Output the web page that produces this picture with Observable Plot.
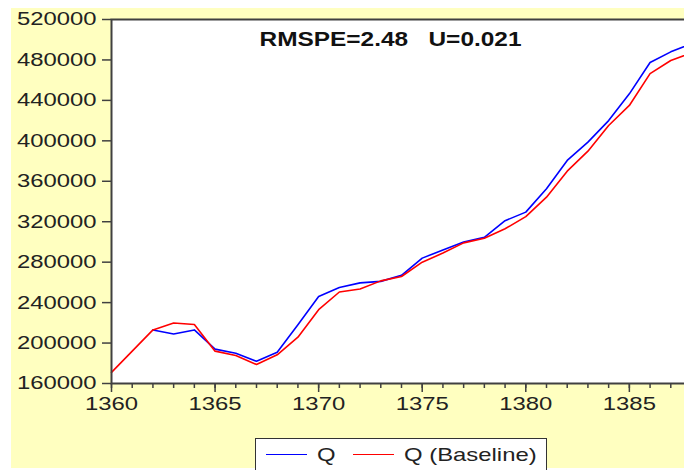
<!DOCTYPE html>
<html>
<head>
<meta charset="utf-8">
<script src="https://cdn.jsdelivr.net/npm/d3@7"></script>
<script src="https://cdn.jsdelivr.net/npm/@observablehq/plot@0.6"></script>
<style>
  html, body { margin: 0; padding: 0; background: #ffffff; overflow: hidden; }
  #wrap { position: relative; width: 684px; height: 470px; overflow: hidden; background: #ffffff; }
  #chart { position: absolute; left: 11px; top: 8px; width: 700px; height: 460px; }
  #chart svg { background: #ffffc0; display: block; max-width: none !important; width: 700px; height: 460px; }
  #legend { position: absolute; left: 255px; top: 438px; width: 292px; height: 44px;
            border: 1px solid #333; background: #ffffff; box-sizing: border-box; }
  .sw { position: absolute; height: 0; border-top: 1.6px solid; }
  .lt { position: absolute; font-family: "Liberation Sans", Arial, sans-serif; font-size: 18.5px;
        line-height: 1; color: #222; white-space: pre; transform: scaleX(1.29); transform-origin: left center; }
</style>
</head>
<body>
<div id="wrap">
  <div id="chart"></div>
  <div id="legend"></div>
</div>
<script>
// ---- data ----
const years = d3.range(1360, 1389);
const qValues = [null, null, 213000, 209000, 213000, 194000, 190000, 182000, 191000, 218000,
  246000, 255000, 259500, 261000, 267000, 284000, 292000, 300000, 304500, 321000,
  329500, 352600, 380600, 398700, 420000, 446500, 477500, 488000, 496000];
const baselineValues = [171000, 192000, 213000, 219800, 218400, 192000, 187700, 178800, 188400, 205800,
  233000, 250500, 253500, 261500, 265800, 280000, 289000, 299100, 303700, 313000,
  325000, 344300, 370000, 389800, 415200, 435000, 466500, 479500, 487000];
const yTicks = d3.range(160000, 520001, 40000);
const xMajorTicks = [1360, 1365, 1370, 1375, 1380, 1385];
const seriesNames = ["Q", "Q (Baseline)"];
const seriesColors = ["#0000ff", "#ff0000"];
const annotation = "RMSPE=2.48   U=0.021";

const qRows = years.map((y, i) => ({year: y, value: qValues[i]}));
const bRows = years.map((y, i) => ({year: y, value: baselineValues[i]}));

const font = {fontFamily: "'Liberation Sans', Arial, sans-serif", fontSize: "18.5px", color: "#222"};

const plot = Plot.plot({
  width: 700,
  height: 460,
  marginLeft: 100,
  marginRight: 20,
  marginTop: 11,
  marginBottom: 85,
  style: {...font, background: "#ffffc0", overflow: "visible"},
  x: {domain: [1360, 1388]},
  y: {domain: [160000, 520000]},
  marks: [
    Plot.frame({fill: "white", stroke: "none"}),
    Plot.line(qRows, {x: "year", y: "value", stroke: seriesColors[0], strokeWidth: 1.6,
      filter: d => d.value != null}),
    Plot.line(bRows, {x: "year", y: "value", stroke: seriesColors[1], strokeWidth: 1.6}),
    Plot.frame({stroke: "#404040", strokeWidth: 2}),
    Plot.axisY({ticks: yTicks, tickSize: 9, tickPadding: 6, tickFormat: d3.format("d"),
      label: null, stroke: "#404040", strokeWidth: 1.5, fill: "#222"}),
    Plot.axisX({ticks: years, tickSize: 5, tickFormat: () => "", label: null,
      stroke: "#404040", strokeWidth: 1.5}),
    Plot.axisX({ticks: xMajorTicks, tickSize: 9, tickPadding: 4, tickFormat: d3.format("d"),
      label: null, stroke: "#404040", strokeWidth: 1.5, fill: "#222"}),
    Plot.text([annotation], {frameAnchor: "top-left", dx: 279, dy: 12, lineAnchor: "top",
      textAnchor: "middle", fontSize: 20.5, fontWeight: "bold", fill: "#111", className: "annot"})
  ]
});
document.getElementById("chart").appendChild(plot);

// horizontally stretch text to match the reference's wide letterforms
plot.querySelectorAll("text").forEach(t => {
  if (!t.textContent) return;
  t.style.whiteSpace = "pre";
  let target;
  if (t.closest(".annot")) target = 262;
  else target = t.getComputedTextLength() * 1.29;
  t.setAttribute("textLength", target.toFixed(1));
  t.setAttribute("lengthAdjust", "spacingAndGlyphs");
});

// legend
const legend = document.getElementById("legend");
const items = [
  {sw: 266, tx: 317},
  {sw: 353, tx: 404}
];
seriesNames.forEach((name, i) => {
  const s = document.createElement("div");
  s.className = "sw";
  s.style.left = (items[i].sw - 256) + "px";
  s.style.top = (454 - 439) + "px";
  s.style.width = "41px";
  s.style.borderTopColor = seriesColors[i];
  legend.appendChild(s);
  const t = document.createElement("div");
  t.className = "lt";
  t.style.left = (items[i].tx - 256) + "px";
  t.style.top = (446 - 439) + "px";
  t.textContent = name;
  legend.appendChild(t);
});
</script>
</body>
</html>
